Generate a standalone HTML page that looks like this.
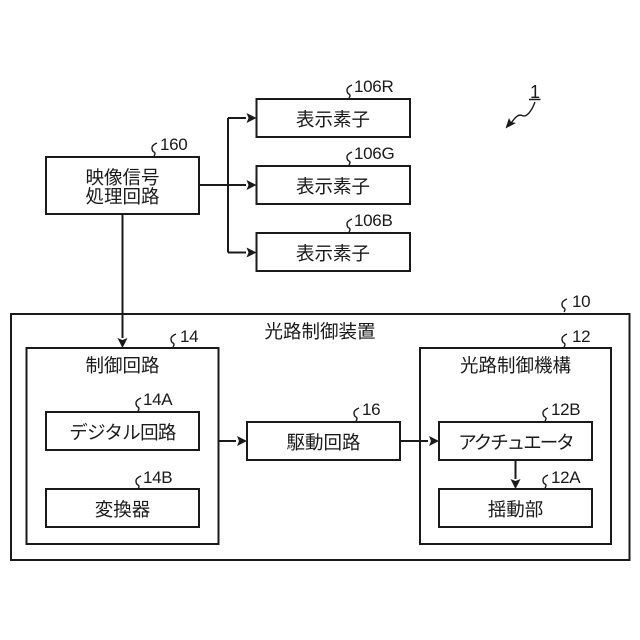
<!DOCTYPE html>
<html><head><meta charset="utf-8"><style>
html,body{margin:0;padding:0;background:#fff}
svg{display:block}
.j{font-family:"Liberation Sans","Noto Sans CJK JP",sans-serif;font-size:18.5px;fill:#1a1a1a;text-anchor:middle}
.n{font-family:"Liberation Sans",sans-serif;font-size:17px;letter-spacing:-.3px;fill:#1a1a1a}
.b{fill:#fff;stroke:#1a1a1a;stroke-width:2}
.l{fill:none;stroke:#1a1a1a;stroke-width:2}
.s{fill:none;stroke:#1a1a1a;stroke-width:1.4}
.a{fill:#1a1a1a}
</style></head><body>
<svg width="640" height="640" viewBox="0 0 640 640" xmlns="http://www.w3.org/2000/svg">
<rect width="640" height="640" fill="#fff"/>
<rect class="b" x="46" y="157" width="153" height="57"/>
<rect class="b" x="256.500" y="99" width="153.500" height="38"/>
<rect class="b" x="256.500" y="166" width="153.500" height="38"/>
<rect class="b" x="256.500" y="233" width="153.500" height="38"/>
<rect class="b" x="11" y="314" width="618.500" height="246"/>
<rect class="b" x="26.500" y="348" width="192" height="196"/>
<rect class="b" x="46" y="412" width="153" height="38"/>
<rect class="b" x="46" y="489" width="153" height="38"/>
<rect class="b" x="247" y="422" width="153" height="38"/>
<rect class="b" x="420" y="348" width="191" height="196"/>
<rect class="b" x="439" y="422" width="153" height="38"/>
<rect class="b" x="439" y="489" width="153" height="38"/>

<path class="l" d="M199 185H246M228 118V252.500M228 118H246M228 252.500H246M122.500 214V338M218.500 441H236M400 441H428M515.500 460V479"/>
<path class="a" d="M256.500 118L246.500 113L248.500 118L246.500 123ZM256.500 185L246.500 180L248.500 185L246.500 190ZM256.500 252.500L246.500 247.500L248.500 252.500L246.500 257.500ZM122.500 348L117.500 338L122.500 340L127.500 338ZM247 441L237 436L239 441L237 446ZM439 441L429 436L431 441L429 446ZM515.500 489L510.500 479L515.500 481L520.500 479Z"/>

<g class="s">
<path d="M157 143q-5 2-5 5t2 4t0 4"/>
<path d="M352 85q-5 2-5 5t2 4t0 4"/>
<path d="M352 152q-5 2-5 5t2 4t0 4"/>
<path d="M352 219q-5 2-5 5t2 4t0 4"/>
<path d="M567 299q-5 2-5 5t2 4t0 4"/>
<path d="M567 334q-5 2-5 5t2 4t0 4"/>
<path d="M176 334q-5 2-5 5t2 4t0 4"/>
<path d="M141 398q-5 2-5 5t2 4t0 4"/>
<path d="M141 476q-5 2-5 5t2 4t0 4"/>
<path d="M359 408q-5 2-5 5t2 4t0 4"/>
<path d="M548 408q-5 2-5 5t2 4t0 4"/>
<path d="M548 475q-5 2-5 5t2 4t0 4"/>
<path d="M529 99.500H540.500M535 102C532 110 527 118 522 115.500C517 113.500 514 120 510 124"/>
</g>
<path class="a" d="M505.500 128.500L509 118L511 122L516 123Z"/>

<text class="n" x="160" y="150">160</text>
<text class="n" x="354" y="92">106R</text>
<text class="n" x="354" y="159">106G</text>
<text class="n" x="354" y="226">106B</text>
<text class="n" x="572" y="307">10</text>
<text class="n" x="572" y="342">12</text>
<text class="n" x="180" y="342">14</text>
<text class="n" x="143" y="405">14A</text>
<text class="n" x="143" y="483">14B</text>
<text class="n" x="362" y="415">16</text>
<text class="n" x="551" y="415">12B</text>
<text class="n" x="551" y="483">12A</text>
<text class="n" x="530" y="98" style="font-size:18px">1</text>

<text class="j" x="122.500" y="184">映像信号</text>
<text class="j" x="122.500" y="203">処理回路</text>
<text class="j" x="333" y="126">表示素子</text>
<text class="j" x="333" y="193">表示素子</text>
<text class="j" x="333" y="260">表示素子</text>
<text class="j" x="320" y="338">光路制御装置</text>
<text class="j" x="122.500" y="372">制御回路</text>
<text class="j" x="122.500" y="439" style="letter-spacing:-.7px">デジタル回路</text>
<text class="j" x="122.500" y="516">変換器</text>
<text class="j" x="323.500" y="449">駆動回路</text>
<text class="j" x="515.500" y="372">光路制御機構</text>
<text class="j" x="515.500" y="449" style="letter-spacing:-2px">アクチュエータ</text>
<text class="j" x="515.500" y="516">揺動部</text>
</svg>
</body></html>
